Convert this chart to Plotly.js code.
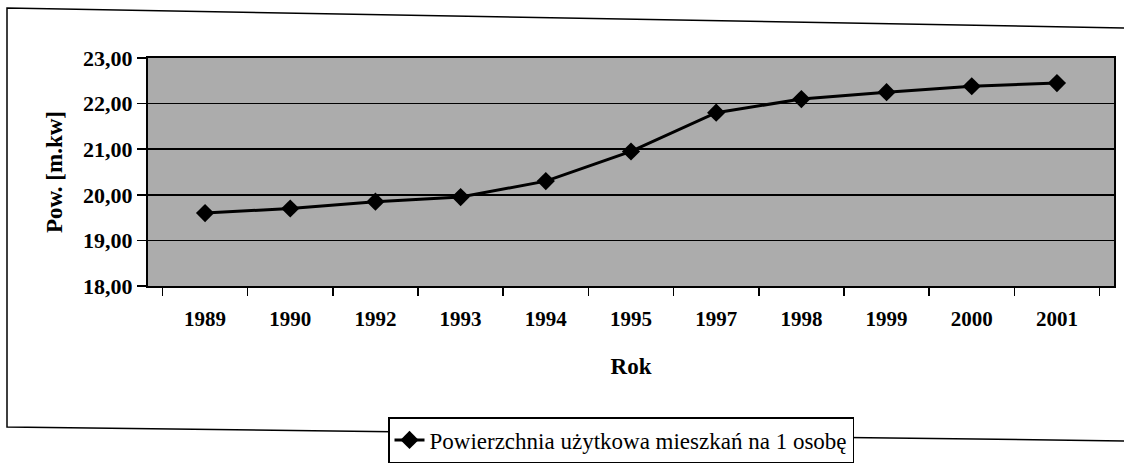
<!DOCTYPE html>
<html>
<head>
<meta charset="utf-8">
<script src="https://cdn.plot.ly/plotly-3.0.1.min.js"></script>
<style>
  html, body { margin: 0; padding: 0; background: #ffffff; }
  #chart { width: 1124px; height: 465px; }
</style>
</head>
<body>
<div id="chart"></div>
<script>
// Data
const years = ['1989', '1990', '1992', '1993', '1994', '1995', '1997', '1998', '1999', '2000', '2001'];
const area = [19.6, 19.7, 19.85, 19.95, 20.3, 20.95, 21.8, 22.1, 22.25, 22.38, 22.45];
const seriesName = 'Powierzchnia użytkowa mieszkań na 1 osobę';
const yTitle = 'Pow. [m.kw]';
const xTitle = 'Rok';

const serif = 'Liberation Serif';

const trace = {
  x: years,
  y: area,
  type: 'scatter',
  mode: 'lines+markers',
  name: seriesName,
  line: { color: '#000000', width: 3 },
  marker: { symbol: 'diamond', size: 14, color: '#000000' }
};

// helpers: pixel -> paper
const L = 148, R = 10, T = 58, B = 179, W = 1124, H = 465;
const pw = W - L - R, ph = H - T - B;
const px = v => (v - L) / pw;
const py = v => (H - B - v) / ph;

const layout = {
  width: W,
  height: H,
  margin: { l: L, r: R, t: T, b: B, autoexpand: false },
  paper_bgcolor: '#ffffff',
  plot_bgcolor: '#acacac',
  separators: ', ',
  showlegend: true,
  font: { family: serif, color: '#000000' },
  xaxis: {
    type: 'category',
    showline: true,
    linecolor: '#000000',
    linewidth: 2,
    mirror: true,
    ticks: 'outside',
    tickson: 'boundaries',
    ticklen: 8,
    tickcolor: '#000000',
    tickwidth: 1.5,
    ticklabelstandoff: 13,
    showgrid: false,
    tickfont: { family: serif, size: 21, color: '#000000', weight: 'bold' },
    title: { text: xTitle, font: { family: serif, size: 23, color: '#000000', weight: 'bold' }, standoff: 28 },
    fixedrange: true
  },
  yaxis: {
    range: [18, 23],
    dtick: 1,
    tick0: 18,
    tickformat: '.2f',
    showline: true,
    linecolor: '#000000',
    linewidth: 2,
    mirror: true,
    ticks: 'outside',
    ticklen: 9,
    tickcolor: '#000000',
    tickwidth: 1.5,
    showgrid: true,
    gridcolor: '#000000',
    gridwidth: 1.5,
    zeroline: false,
    tickfont: { family: serif, size: 22, color: '#000000', weight: 'bold' },
    title: { text: yTitle, font: { family: serif, size: 23, color: '#000000', weight: 'bold' }, standoff: 14 },
    fixedrange: true
  },
  legend: {
    x: px(388),
    y: py(417),
    xanchor: 'left',
    yanchor: 'top',
    orientation: 'h',
    bgcolor: '#ffffff',
    bordercolor: '#000000',
    borderwidth: 1.5,
    font: { family: serif, size: 23, color: '#000000' },
    itemwidth: 30,
    tracegroupgap: 0
  },
  shapes: [
    {
      type: 'path',
      xref: 'paper', yref: 'paper',
      path: 'M ' + px(1130) + ',' + py(28) + ' L ' + px(7) + ',' + py(8) + ' L ' + px(7) + ',' + py(427) + ' L ' + px(1130) + ',' + py(441),
      line: { color: '#000000', width: 1.5 }
    }
  ]
};

Plotly.newPlot('chart', [trace], layout, { displayModeBar: false, staticPlot: true });
</script>
</body>
</html>
